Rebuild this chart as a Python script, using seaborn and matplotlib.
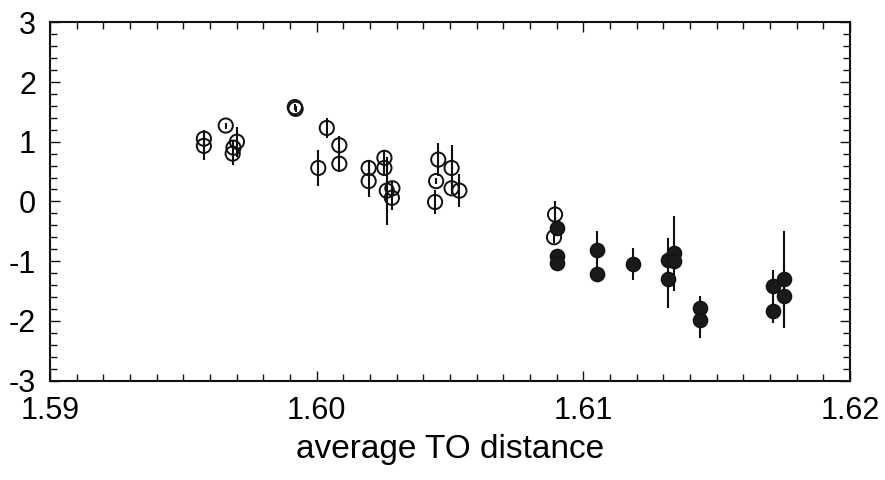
import matplotlib
matplotlib.use("Agg")
import matplotlib.pyplot as plt
import seaborn as sns
import pandas as pd
from matplotlib.ticker import MultipleLocator, FormatStrFormatter

# Open-circle series
x_open = [1.59577, 1.59577, 1.59659, 1.59701, 1.59688, 1.59685, 1.59918, 1.59921,
          1.60038, 1.60006, 1.60085, 1.60085, 1.60195, 1.60195, 1.60254, 1.60254,
          1.60263, 1.60284, 1.60282, 1.60456, 1.60448, 1.60444, 1.60506, 1.60506,
          1.60535, 1.60894, 1.60890]
y_open = [1.05, 0.93, 1.27, 1.00, 0.90, 0.80, 1.58, 1.55,
          1.23, 0.56, 0.94, 0.63, 0.56, 0.34, 0.73, 0.56,
          0.18, 0.22, 0.06, 0.70, 0.34, -0.01, 0.56, 0.22,
          0.18, -0.22, -0.60]
err_open = [0.15, 0.24, 0.05, 0.25, 0.12, 0.19, 0.05, 0.05,
            0.17, 0.30, 0.16, 0.14, 0.12, 0.27, 0.12, 0.10,
            0.57, 0.10, 0.20, 0.27, 0.05, 0.20, 0.38, 0.10,
            0.28, 0.23, 0.10]

# Filled-circle series
x_filled = [1.60902, 1.60900, 1.60900, 1.61050, 1.61050, 1.61187, 1.61319, 1.61319,
            1.61340, 1.61340, 1.61437, 1.61437, 1.61712, 1.61712, 1.61754, 1.61754]
y_filled = [-0.44, -0.92, -1.03, -0.81, -1.21, -1.05, -0.98, -1.30,
            -0.87, -1.00, -1.79, -1.99, -1.41, -1.84, -1.30, -1.58]
err_filled = [0.10, 0.10, 0.10, 0.32, 0.05, 0.27, 0.36, 0.49,
              0.63, 0.10, 0.20, 0.30, 0.26, 0.20, 0.80, 0.54]

x_ticks = [1.59, 1.60, 1.61, 1.62]
y_ticks = [-3, -2, -1, 0, 1, 2, 3]
x_label = "average TO distance"

sns.set_style("ticks")
plt.rcParams["font.family"] = ["Liberation Sans", "DejaVu Sans"]
plt.rcParams["axes.unicode_minus"] = False

df_open = pd.DataFrame({"x": x_open, "y": y_open, "err": err_open})
df_fill = pd.DataFrame({"x": x_filled, "y": y_filled, "err": err_filled})

fig = plt.figure(figsize=(8.85, 4.8), dpi=100)
ax = fig.add_axes([50 / 885, 1 - 380.5 / 480, 800 / 885, (380.5 - 22.3) / 480])

ink = "#111111"
for d in (df_open, df_fill):
    ax.errorbar(d["x"], d["y"], yerr=d["err"], fmt="none", ecolor=ink,
                elinewidth=1.5, capsize=0, zorder=2)

sns.scatterplot(data=df_open, x="x", y="y", ax=ax, marker="o", s=105,
                facecolors="none", edgecolor=ink, linewidth=1.4, zorder=3)
sns.scatterplot(data=df_fill, x="x", y="y", ax=ax, marker="o", s=105,
                color="#1a1a1a", edgecolor=ink, linewidth=1.0, zorder=3)

ax.set_xlim(1.59, 1.62)
ax.set_ylim(-3, 3)
ax.set_xticks(x_ticks)
ax.set_yticks(y_ticks)
ax.xaxis.set_major_formatter(FormatStrFormatter("%.2f"))
ax.xaxis.set_minor_locator(MultipleLocator(0.001))
ax.yaxis.set_minor_locator(MultipleLocator(0.2))
ax.tick_params(which="both", direction="in", top=True, right=True,
               labelsize=22, color=ink, labelcolor="black", width=1.0)
ax.tick_params(which="major", length=7)
ax.tick_params(axis="x", which="major", pad=11)
ax.tick_params(axis="y", which="major", pad=10)
ax.tick_params(which="minor", length=5)
for s in ax.spines.values():
    s.set_linewidth(1.5)
    s.set_color(ink)
ax.set_xlabel(x_label, fontsize=24, labelpad=6, color="black")
ax.set_ylabel("")

fig.savefig("out.png", dpi=100)
